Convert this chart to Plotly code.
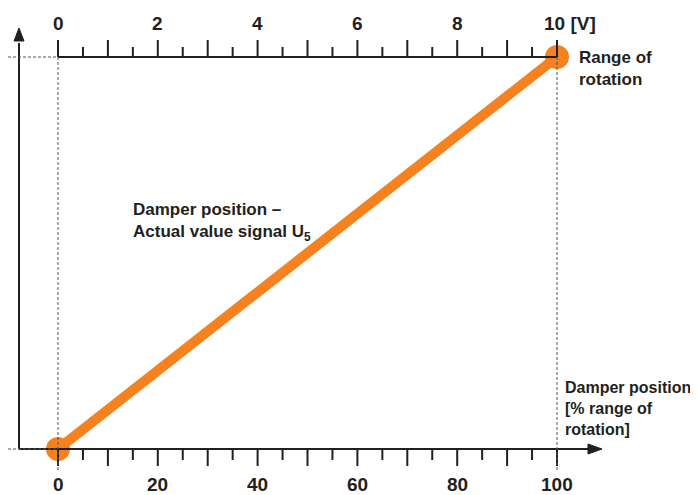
import plotly.graph_objects as go

# ---- data ----
damper_pct = [0, 100]          # damper position [% range of rotation]
signal_v = [0, 10]             # actual value signal U5 [V]
bottom_tick_vals = [0, 20, 40, 60, 80, 100]
bottom_tick_labels = ["0", "20", "40", "60", "80", "100"]
top_tick_vals_v = [0, 2, 4, 6, 8, 10]
top_tick_labels = ["0", "2", "4", "6", "8", "10 [V]"]

# ---- scale helpers (px per data unit) ----
XPX = 4.99
YPX = 39.2
def dx(p): return p / XPX
def dy(p): return p / YPX

INK = "#231f20"
ORANGE = "#f5821f"
DASH = "#555555"
FONT = "Liberation Sans, Arial, sans-serif"

# page body has an 8px margin, so the figure is 690x487 placed at (8, 8)
W, H = 690, 487
X0PX, Y0PX = 50, 441   # pixel of data origin inside the figure

fig = go.Figure()

shapes = []
axis_x = -dx(39)          # vertical arrow axis position
left_dash = -dx(50)

# bottom axis line + arrow
shapes.append(dict(type="line", x0=axis_x, x1=100 + dx(32), y0=0, y1=0,
                   line=dict(color=INK, width=2)))
shapes.append(dict(type="path",
                   path=f"M {100+dx(31)},{-dy(5)} L {100+dx(45)},0 L {100+dx(31)},{dy(5)} Z",
                   fillcolor=INK, line=dict(color=INK, width=1)))
# vertical axis + arrow
shapes.append(dict(type="line", x0=axis_x, x1=axis_x, y0=0, y1=10 + dy(14),
                   line=dict(color=INK, width=2)))
shapes.append(dict(type="path",
                   path=f"M {axis_x-dx(5)},{10+dy(16)} L {axis_x},{10+dy(29)} L {axis_x+dx(5)},{10+dy(16)} Z",
                   fillcolor=INK, line=dict(color=INK, width=1)))
# top axis line
shapes.append(dict(type="line", x0=0, x1=100, y0=10, y1=10,
                   line=dict(color=INK, width=2)))

# bottom ticks every 5 %, long at multiples of 10
for i in range(0, 21):
    v = i * 5
    L = 17 if v % 10 == 0 else 11
    shapes.append(dict(type="line", x0=v, x1=v, y0=0, y1=-dy(L),
                       line=dict(color=INK, width=2)))
# top ticks every 0.5 V, long at whole volts
for i in range(0, 21):
    volt = i * 0.5
    L = 17 if i % 2 == 0 else 10
    shapes.append(dict(type="line", x0=volt * 10, x1=volt * 10, y0=10, y1=10 + dy(L),
                       line=dict(color=INK, width=2)))

# dashed guide lines
for yv in (0, 10):
    shapes.append(dict(type="line", x0=left_dash, x1=0, y0=yv, y1=yv,
                       line=dict(color=DASH, width=1, dash="3px,2px")))
for xv in (0, 100):
    shapes.append(dict(type="line", x0=xv, x1=xv, y0=10, y1=-dy(21),
                       line=dict(color=DASH, width=1, dash="3px,2px")))

fig.add_trace(go.Scatter(
    x=damper_pct, y=signal_v, mode="lines+markers",
    line=dict(color=ORANGE, width=10),
    marker=dict(color=ORANGE, size=24),
    cliponaxis=False, hoverinfo="skip", showlegend=False))

ann = []
for v, t in zip(bottom_tick_vals, bottom_tick_labels):
    ann.append(dict(x=v, y=-dy(35), text=f"<b>{t}</b>", showarrow=False,
                    xanchor="center", yanchor="middle",
                    font=dict(size=19, color=INK, family=FONT)))
for v, t in zip(top_tick_vals_v, top_tick_labels):
    if t.startswith("10"):
        ann.append(dict(x=v * 10, y=10 + dy(34), text=f"<b>{t}</b>", showarrow=False,
                        xanchor="left", yanchor="middle", xshift=-15,
                        font=dict(size=19, color=INK, family=FONT)))
    else:
        ann.append(dict(x=v * 10, y=10 + dy(34), text=f"<b>{t}</b>", showarrow=False,
                        xanchor="center", yanchor="middle",
                        font=dict(size=19, color=INK, family=FONT)))

ann.append(dict(x=100 + dx(20), y=10 - dy(11), text="<b>Range of<br>rotation</b>",
                showarrow=False, xanchor="left", yanchor="middle", align="left",
                font=dict(size=17, color=INK, family=FONT)))
ann.append(dict(x=dx(73), y=dy(449 - 222),
                text="<b>Damper position –<br>Actual value signal U<sub>5</sub></b>",
                showarrow=False, xanchor="left", yanchor="middle", align="left",
                font=dict(size=17, color=INK, family=FONT)))
ann.append(dict(x=100 + dx(6), y=dy(449 - 408),
                text="<b>Damper position<br>[% range of<br>rotation]</b>",
                showarrow=False, xanchor="left", yanchor="middle", align="left",
                font=dict(size=16, color=INK, family=FONT)))

fig.update_layout(
    width=W, height=H,
    margin=dict(l=0, r=0, t=0, b=0),
    paper_bgcolor="white", plot_bgcolor="white",
    xaxis=dict(range=[-X0PX / XPX, 100 + (W - X0PX - 100 * XPX) / XPX],
               visible=False, fixedrange=True),
    yaxis=dict(range=[-(H - Y0PX) / YPX, 10 + (Y0PX - 10 * YPX) / YPX],
               visible=False, fixedrange=True),
    shapes=shapes, annotations=ann, showlegend=False)

fig.write_html("out.html")
